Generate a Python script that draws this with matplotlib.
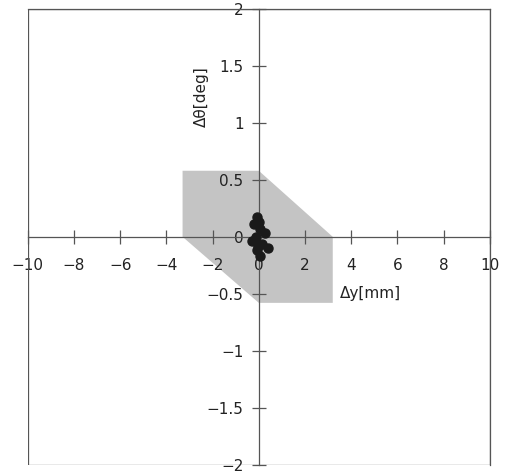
import matplotlib
matplotlib.use("Agg")
import matplotlib.pyplot as plt
from matplotlib.patches import Polygon, Rectangle

plt.rcParams['font.family'] = ['DejaVu Sans']

# Zone admissible (hexagone) et points mesurés
zone_dy = [-3.3, 0.0, 3.2, 3.2, 0.0, -3.3]
zone_dtheta = [0.58, 0.58, 0.0, -0.58, -0.58, 0.0]

pts_dy = [-0.1, -0.2, 0.05, 0.25, -0.13, -0.3, 0.12, 0.4, -0.1, 0.05, 0.0, -0.05]
pts_dtheta = [0.17, 0.11, 0.07, 0.03, 0.0, -0.04, -0.06, -0.1, -0.12, -0.17, 0.13, -0.08]

xticks = [-10, -8, -6, -4, -2, 0, 2, 4, 6, 8, 10]
yticks = [-2, -1.5, -1, -0.5, 0, 0.5, 1, 1.5, 2]

fig = plt.figure(figsize=(5.05, 4.76), dpi=100)
ax = fig.add_axes([0.055, 0.024, 0.915, 0.957])
ax.set_xlim(-10, 10)
ax.set_ylim(-2, 2)

ax.add_patch(Polygon(list(zip(zone_dy, zone_dtheta)), closed=True,
                     facecolor="#c4c4c4", edgecolor="none", zorder=1))
ax.plot(pts_dy, pts_dtheta, "o", color="#1a1a1a", markersize=6.5, zorder=3)

# axes au centre
for s in ["left", "bottom"]:
    ax.spines[s].set_position("zero")
    ax.spines[s].set_color("#555555")
    ax.spines[s].set_linewidth(0.9)
for s in ["top", "right"]:
    ax.spines[s].set_color("#555555")
    ax.spines[s].set_linewidth(0.9)
ax.add_patch(Rectangle((0, 0), 1, 1, transform=ax.transAxes, fill=False,
                       edgecolor="#555555", linewidth=0.9, zorder=5))

ax.set_xticks(xticks)
ax.set_yticks(yticks)
ax.set_xticklabels([str(t).replace("-", "\u2212") for t in xticks])
ax.set_yticklabels([("%g" % t).replace("-", "\u2212") for t in yticks])
ax.tick_params(axis="both", direction="inout", length=10, width=0.9,
               color="#555555", labelsize=11, labelcolor="#222222")
ax.tick_params(axis="x", pad=10)
ax.tick_params(axis="y", pad=6)

ax.text(-2.5, 1.23, "\u0394\u03b8[deg]", rotation=90, fontsize=11,
        ha="center", va="center", color="#222222")
ax.text(3.5, -0.5, "\u0394y[mm]", fontsize=11, ha="left", va="center",
        color="#222222")

fig.savefig("out.png", dpi=100)
